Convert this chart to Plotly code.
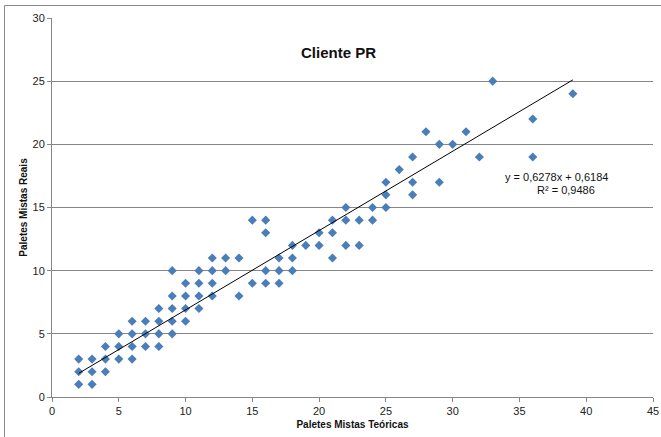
import plotly.graph_objects as go

# Data
teoricas = [2, 3,
            2, 3, 4,
            2, 3, 4, 5, 6,
            4, 5, 6, 7, 8,
            5, 6, 7, 8, 9,
            6, 7, 8, 9, 10,
            8, 9, 10, 11,
            9, 10, 11, 12, 14,
            10, 11, 12, 15, 16, 17,
            9, 11, 12, 13, 16, 17, 18,
            12, 13, 14, 17, 18, 21,
            18, 19, 20, 22, 23,
            16, 20, 21,
            15, 16, 21, 22, 23, 24,
            22, 24, 25,
            25, 27,
            25, 27, 29,
            26,
            27, 32, 36,
            29, 30,
            28, 31,
            36,
            39,
            33]
reais = [1, 1,
         2, 2, 2,
         3, 3, 3, 3, 3,
         4, 4, 4, 4, 4,
         5, 5, 5, 5, 5,
         6, 6, 6, 6, 6,
         7, 7, 7, 7,
         8, 8, 8, 8, 8,
         9, 9, 9, 9, 9, 9,
         10, 10, 10, 10, 10, 10, 10,
         11, 11, 11, 11, 11, 11,
         12, 12, 12, 12, 12,
         13, 13, 13,
         14, 14, 14, 14, 14, 14,
         15, 15, 15,
         16, 16,
         17, 17, 17,
         18,
         19, 19, 19,
         20, 20,
         21, 21,
         22,
         24,
         25]

slope = 0.6278
intercept = 0.6184
r2 = 0.9486
x_ticks = [0, 5, 10, 15, 20, 25, 30, 35, 40, 45]
y_ticks = [0, 5, 10, 15, 20, 25, 30]

trend_x = [min(teoricas), max(teoricas)]
trend_y = [slope * v + intercept for v in trend_x]

FONT = "Liberation Sans, Arial, sans-serif"
GRID = "#868686"

fig = go.Figure()
fig.add_trace(go.Scatter(
    x=teoricas, y=reais, mode="markers",
    marker=dict(symbol="diamond", size=7, color="#4A7EBB",
                line=dict(width=0)),
    showlegend=False, hoverinfo="x+y"))
fig.add_trace(go.Scatter(
    x=trend_x, y=trend_y, mode="lines",
    line=dict(color="black", width=1), showlegend=False, hoverinfo="skip"))

fig.update_layout(
    width=661, height=437,
    margin=dict(l=52, r=8, t=18, b=40, autoexpand=False),
    paper_bgcolor="white", plot_bgcolor="white",
    font=dict(family=FONT, size=11, color="#222222"),
    xaxis=dict(range=[0, 45], tickvals=x_ticks, showgrid=False,
               showline=True, linecolor=GRID, linewidth=1,
               ticks="outside", ticklen=4, tickcolor=GRID,
               zeroline=False, fixedrange=True, automargin=False,
               ticklabeloverflow="allow",
               tickfont=dict(family=FONT, size=11, color="#222222"),
               title=dict(text="<b>Paletes Mistas Teóricas</b>",
                          font=dict(family=FONT, size=10, color="#111111"),
                          standoff=4)),
    yaxis=dict(range=[0, 30], tickvals=y_ticks, showgrid=True,
               gridcolor=GRID, gridwidth=1,
               showline=True, linecolor=GRID, linewidth=1,
               ticks="outside", ticklen=4, tickcolor=GRID,
               zeroline=False, fixedrange=True, automargin=False,
               ticklabeloverflow="allow",
               tickfont=dict(family=FONT, size=11, color="#222222"),
               title=dict(text="<b>Paletes Mistas Reais</b>",
                          font=dict(family=FONT, size=10, color="#111111"),
                          standoff=3)),
    annotations=[
        dict(text="<b>Cliente PR</b>", x=(338 - 52) / 601, y=(397 - 53) / 379,
             xref="paper", yref="paper", xanchor="center", yanchor="middle",
             showarrow=False, font=dict(family=FONT, size=15, color="#111111")),
        dict(text=f"y = {str(slope).replace('.', ',')}x + {str(intercept).replace('.', ',')}",
             x=37.81, y=17.45, xref="x", yref="y", xanchor="center",
             yanchor="middle", showarrow=False,
             font=dict(family=FONT, size=11, color="#111111")),
        dict(text=f"R² = {str(r2).replace('.', ',')}",
             x=38.49, y=16.39, xref="x", yref="y", xanchor="center",
             yanchor="middle", showarrow=False,
             font=dict(family=FONT, size=11, color="#111111")),
    ],
    shapes=[
        dict(type="rect", xref="paper", yref="paper",
             x0=(4.5 - 52) / 601, x1=(668 - 52) / 601,
             y0=(397 - 445) / 379, y1=(397 - 5.5) / 379,
             line=dict(color="#8a8a8a", width=1), layer="above"),
    ],
)

fig.write_html("out.html",
               config={"displayModeBar": False, "staticPlot": True},
               post_script="document.body.style.margin='0';document.body.style.overflow='hidden';")
